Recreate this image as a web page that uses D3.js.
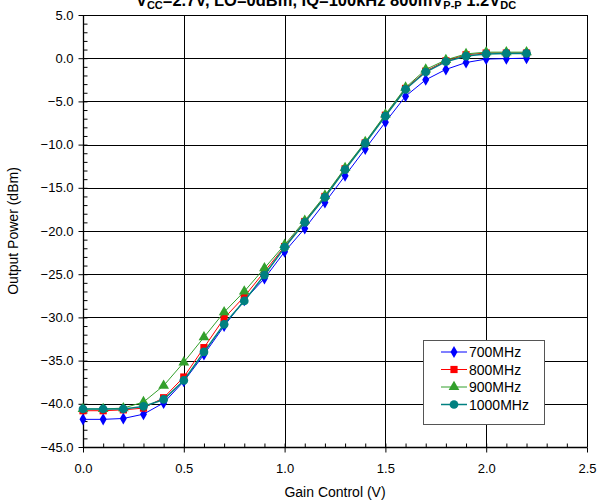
<!DOCTYPE html>
<html><head><meta charset="utf-8">
<script src="https://cdn.jsdelivr.net/npm/d3@7"></script>
<style>body{margin:0;background:#fff;} text{font-family:Arial,"Liberation Sans",sans-serif;}</style>
</head><body>
<svg id="c" width="598" height="504"></svg>
<script>
const gainV = [0.0,0.1,0.2,0.3,0.4,0.5,0.6,0.7,0.8,0.9,1.0,1.1,1.2,1.3,1.4,1.5,1.6,1.7,1.8,1.9,2.0,2.1,2.2];
const p700  = [-41.8,-41.8,-41.7,-41.2,-39.9,-37.4,-34.3,-31.0,-28.0,-25.5,-22.4,-19.7,-16.7,-13.6,-10.5,-7.4,-4.4,-2.5,-1.3,-0.5,-0.1,-0.05,0.0];
const p800  = [-40.8,-40.8,-40.7,-40.5,-39.3,-36.9,-33.5,-30.1,-27.6,-24.7,-21.8,-18.9,-16.0,-12.8,-9.8,-6.6,-3.5,-1.5,-0.3,0.4,0.6,0.6,0.6];
const p900  = [-40.6,-40.6,-40.5,-39.8,-37.9,-35.2,-32.3,-29.4,-27.0,-24.3,-21.6,-18.8,-15.9,-12.7,-9.7,-6.5,-3.4,-1.3,-0.2,0.5,0.7,0.7,0.7];
const p1000 = [-40.6,-40.6,-40.6,-40.3,-39.5,-37.3,-34.0,-30.8,-28.1,-25.1,-21.9,-19.0,-16.1,-12.9,-9.85,-6.7,-3.6,-1.6,-0.4,0.25,0.5,0.55,0.55];
const seriesNames = ["700MHz","800MHz","900MHz","1000MHz"];
const xTicks = [0,0.5,1.0,1.5,2.0,2.5];
const yTicks = [5,0,-5,-10,-15,-20,-25,-30,-35,-40,-45];

const svg = d3.select("#c");
const L=83, R=587, T=15, B=447;
const x = d3.scaleLinear().domain([0,2.5]).range([L,R]);
const y = d3.scaleLinear().domain([-45,5]).range([B,T]);

const styles = [
  {color:"#0000ff", sym:d3.symbolDiamond, size:42, w:1},
  {color:"#ff0000", sym:d3.symbolSquare, size:52, w:1},
  {color:"#33a02c", sym:d3.symbolTriangle, size:50, w:1},
  {color:"#008080", sym:d3.symbolCircle, size:60, w:1.5}
];
const data = [p700,p800,p900,p1000];
const FF = "Arial, 'Liberation Sans', sans-serif";

const g = svg.append("g");
g.selectAll(".gx").data(xTicks.slice(1,-1)).join("line")
  .attr("x1",d=>Math.round(x(d))+0.5).attr("x2",d=>Math.round(x(d))+0.5).attr("y1",T).attr("y2",B)
  .attr("stroke","#000").attr("stroke-width",1);
g.selectAll(".gy").data(yTicks.slice(1,-1)).join("line")
  .attr("y1",d=>Math.round(y(d))+0.5).attr("y2",d=>Math.round(y(d))+0.5).attr("x1",L).attr("x2",R)
  .attr("stroke","#000").attr("stroke-width",1);
g.append("line").attr("x1",L).attr("x2",R).attr("y1",T+0.5).attr("y2",T+0.5).attr("stroke","#000");
g.append("line").attr("x1",R+0.5).attr("x2",R+0.5).attr("y1",T).attr("y2",B).attr("stroke","#000");

const yMinor = d3.range(-45,5.01,1);
const xMinor = d3.range(0,25.01,1).map(d=>d/10);
svg.append("g").attr("transform",`translate(${L+0.5},0)`).call(d3.axisRight(y).tickValues(yMinor).tickSize(4).tickFormat("")).call(s=>s.select(".domain").remove());
const ya = svg.append("g").attr("transform",`translate(${L+0.5},0)`)
  .call(d3.axisLeft(y).tickValues(yTicks).tickSize(5).tickPadding(5).tickFormat(d3.format(".1f")));
ya.selectAll("text").attr("font-size",13).attr("fill","#000").attr("font-family",FF);
ya.select(".domain").attr("d",`M0,${T}V${B}`);
svg.append("g").attr("transform",`translate(0,${B+0.5})`).call(d3.axisTop(x).tickValues(xMinor).tickSize(4).tickFormat("")).call(s=>s.select(".domain").remove());
const xa = svg.append("g").attr("transform",`translate(0,${B+0.5})`)
  .call(d3.axisBottom(x).tickValues(xTicks).tickSize(5).tickPadding(11).tickFormat(d3.format(".1f")));
xa.selectAll("text").attr("font-size",13).attr("fill","#000").attr("font-family",FF);
xa.select(".domain").attr("d",`M${L},0H${R}`);
svg.selectAll(".domain").attr("stroke","#000").attr("stroke-width",1.3);

const line = d3.line().x((d,i)=>x(gainV[i])).y(d=>y(d));
data.forEach((arr,k)=>{
  const st = styles[k];
  svg.append("path").datum(arr).attr("d",line).attr("fill","none").attr("stroke",st.color).attr("stroke-width",st.w);
  svg.append("g").selectAll("path").data(arr).join("path")
    .attr("d",d3.symbol().type(st.sym).size(st.size))
    .attr("transform",(d,i)=>`translate(${x(gainV[i])},${y(d)})`)
    .attr("fill",st.color);
});

const lg = svg.append("g");
lg.append("rect").attr("x",423.5).attr("y",340.5).attr("width",121).attr("height",84)
  .attr("fill","#fff").attr("stroke","#555").attr("stroke-width",1);
seriesNames.forEach((n,k)=>{
  const st = styles[k];
  const yy = 352 + k*17.5;
  lg.append("line").attr("x1",441).attr("x2",467).attr("y1",yy).attr("y2",yy).attr("stroke",st.color).attr("stroke-width",st.w);
  lg.append("path").attr("d",d3.symbol().type(st.sym).size(st.size)()).attr("transform",`translate(454,${yy})`).attr("fill",st.color);
  lg.append("text").attr("x",469).attr("y",yy+5).attr("font-size",14).text(n);
});

svg.append("text").attr("x",335).attr("y",497).attr("text-anchor","middle").attr("font-size",14).text("Gain Control (V)");
svg.append("text").attr("transform","translate(18,231) rotate(-90)").attr("text-anchor","middle").attr("font-size",14).text("Output Power (dBm)");

const title = svg.append("text").attr("x",326).attr("y",6).attr("text-anchor","middle").attr("font-size",16.5).attr("font-weight","bold");
title.append("tspan").text("V");
title.append("tspan").attr("font-size",11).attr("dy",3).text("CC");
title.append("tspan").attr("dy",-3).text("=2.7V, LO=0dBm, IQ=100kHz 800mV");
title.append("tspan").attr("font-size",11).attr("dy",3).text("P-P");
title.append("tspan").attr("dy",-3).text(" 1.2V");
title.append("tspan").attr("font-size",11).attr("dy",3).text("DC");
</script>
</body></html>
